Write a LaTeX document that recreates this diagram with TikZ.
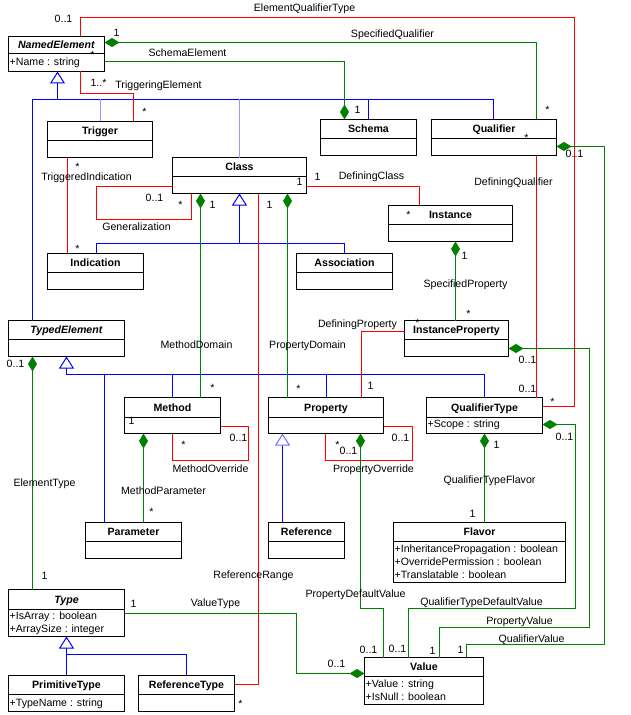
\documentclass[tikz,border=0pt]{standalone}
\usepackage{fontspec}
\setmainfont{Liberation Sans}
\usetikzlibrary{arrows.meta}
\definecolor{ured}{RGB}{255,0,0}
\definecolor{ugreen}{RGB}{0,128,0}
\definecolor{ublue}{RGB}{0,0,255}
\definecolor{ulblue}{RGB}{150,150,255}
\definecolor{umblue}{RGB}{110,110,255}
\newcounter{lc}
\newcommand{\umlbox}[7]{%
  \node[umlbox, minimum width={((#4)-(#2))*1bp}, minimum height={((#5)-(#3))*1bp}, anchor=north west] (#1) at (#2,#3) {};
  \draw[boxsep] (#2,#6) -- (#4,#6);
  \node[ctitle] (#1t) at ({((#2)+(#4))/2},{((#3)+(#6))/2+1}) {#7};}
\newcommand{\cnlab}[3]{\stepcounter{lc}\node[lbl] (lab\thelc) at (#1,#2) {#3};}
\newcommand{\cnattr}[3]{\stepcounter{lc}\node[lbl, anchor=west] (att\thelc) at (#1,#2) {#3};}
\tikzset{
  umlbox/.style={draw=black, line width=1bp, inner sep=0pt, outer sep=0pt, fill=white},
  boxsep/.style={draw=black, line width=1bp},
  lbl/.style={font=\fontsize{10.6bp}{12bp}\selectfont, inner sep=0pt, text height=7.6bp, text depth=2.2bp},
  ctitle/.style={lbl, font=\fontsize{10.6bp}{12bp}\selectfont\bfseries},
  redline/.style={draw=ured, line width=1bp},
  comp/.style={draw=ugreen, line width=1bp, {Diamond[length=15bp,width=9bp,fill=ugreen]}-},
  blueline/.style={draw=ublue, line width=1bp},
  lblueline/.style={draw=ulblue, line width=1bp},
  gen/.style={draw=ublue, line width=1bp, {Triangle[open,length=12bp,width=15bp,fill=white]}-},
  mgen/.style={draw=ublue, line width=1bp, {Triangle[open,length=12bp,width=15bp,fill=white,color=umblue]}-}
}
\begin{document}
\begin{tikzpicture}[x=1bp,y=-1bp]
\useasboundingbox (0,0) rectangle (631,715);
\begin{scope}[shift={(0.5,0.5)}]
% ---------- boxes
\umlbox{NE}{8}{36}{104}{71}{53}{\textit{NamedElement}}
\umlbox{Trig}{47}{121}{152}{157}{140}{Trigger}
\umlbox{Schema}{320}{119}{416}{155}{138}{Schema}
\umlbox{Qual}{431}{119}{556}{155}{138}{Qualifier}
\umlbox{Class}{172}{157}{306}{193}{176}{Class}
\umlbox{Inst}{388}{205}{512}{241}{224}{Instance}
\umlbox{Ind}{47}{253}{143}{289}{272}{Indication}
\umlbox{Assoc}{296}{253}{392}{289}{272}{Association}
\umlbox{TE}{8}{320}{124}{356}{339}{\textit{TypedElement}}
\umlbox{IP}{404}{320}{508}{356}{339}{InstanceProperty}
\umlbox{Meth}{124}{397}{220}{433}{417}{Method}
\umlbox{Prop}{268}{397}{383}{433}{417}{Property}
\umlbox{QT}{426}{397}{542}{433}{417}{QualifierType}
\umlbox{Param}{85}{522}{181}{558}{541}{Parameter}
\umlbox{Ref}{268}{522}{344}{558}{541}{Reference}
\umlbox{Flav}{393}{522}{565}{582}{541}{Flavor}
\umlbox{Type}{8}{589}{124}{636}{609}{\textit{Type}}
\umlbox{Val}{364}{657}{483}{704}{676}{Value}
\umlbox{PT}{8}{675}{124}{711}{694}{PrimitiveType}
\umlbox{RT}{138}{675}{234}{711}{694}{ReferenceType}
% ---------- attributes
\cnattr{9}{62}{+Name : string}
\cnattr{427}{424.5}{+Scope : string}
\cnattr{394}{549}{+InheritancePropagation : boolean}
\cnattr{394}{562}{+OverridePermission : boolean}
\cnattr{394}{575}{+Translatable : boolean}
\cnattr{9}{616.5}{+IsArray : boolean}
\cnattr{9}{629}{+ArraySize : integer}
\cnattr{365}{684}{+Value : string}
\cnattr{365}{697}{+IsNull : boolean}
\cnattr{9}{703}{+TypeName : string}
% ---------- generalizations
\draw[gen] (NE.south -| 57,0) -- (57,99);
\draw[blueline] (TE.north -| 32,0) -- (32,99) -- (493,99) -- (Qual.north -| 493,0);
\draw[blueline] (368,99) -- (Schema.north -| 368,0);
\draw[lblueline] (100,99) -- (Trig.north -| 100,0);
\draw[lblueline] (239,99) -- (Class.north -| 239,0);
\draw[gen] (Class.south -| 239,0) -- (239,243);
\draw[blueline] (Ind.north -| 96,0) -- (96,243) -- (344,243) -- (Assoc.north -| 344,0);
\draw[gen] (TE.south -| 66,0) -- (66,374);
\draw[blueline] (66,374) -- (484,374) -- (QT.north -| 484,0);
\draw[blueline] (104,374) -- (Param.north -| 104,0);
\draw[blueline] (172,374) -- (Meth.north -| 172,0);
\draw[blueline] (326,374) -- (Prop.north -| 326,0);
\draw[mgen] (Prop.south -| 282,0) -- (Ref.north -| 282,0);
\draw[gen] (Type.south -| 66,0) -- (66,654);
\draw[blueline] (PT.north -| 66,0) -- (66,654) -- (186,654) -- (RT.north -| 186,0);
% ---------- red associations
\draw[redline] (NE.north -| 80,0) -- (80,17) -- (574,17) -- (574,406) -- (QT.east |- 0,406);
\draw[redline] (NE.south -| 80,0) -- (80,93) -- (133,93) -- (Trig.north -| 133,0);
\draw[redline] (Trig.south -| 67,0) -- (Ind.north -| 67,0);
\draw[redline] (Class.west |- 0,186) -- (96,186) -- (96,219) -- (191,219) -- (Class.south -| 191,0);
\draw[redline] (Class.east |- 0,186) -- (419,186) -- (Inst.north -| 419,0);
\draw[redline] (Class.south -| 258,0) -- (258,684) -- (RT.east |- 0,684);
\draw[redline] (Qual.south -| 536,0) -- (QT.north -| 536,0);
\draw[redline] (IP.west |- 0,331) -- (361,331) -- (Prop.north -| 361,0);
\draw[redline] (Meth.east |- 0,426) -- (248,426) -- (248,460) -- (172,460) -- (Meth.south -| 172,0);
\draw[redline] (Prop.east |- 0,426) -- (412,426) -- (412,460) -- (325,460) -- (Prop.south -| 325,0);
% ---------- compositions
\draw[comp] (Schema.north -| 344,0) -- (344,61) -- (NE.east |- 0,61);
\draw[comp] (NE.east |- 0,42) -- (536,42) -- (Qual.north -| 536,0);
\draw[comp] (Qual.east |- 0,146) -- (604,146) -- (604,644) -- (466,644) -- (Val.north -| 466,0);
\draw[comp] (Inst.south -| 455,0) -- (IP.north -| 455,0);
\draw[comp] (IP.east |- 0,348) -- (589,348) -- (589,627) -- (439,627) -- (Val.north -| 439,0);
\draw[comp] (QT.east |- 0,424) -- (575,424) -- (575,608) -- (408,608) -- (Val.north -| 408,0);
\draw[comp] (Prop.south -| 360,0) -- (360,608) -- (383,608) -- (Val.north -| 383,0);
\draw[comp] (QT.south -| 484,0) -- (Flav.north -| 484,0);
\draw[comp] (Val.west |- 0,673) -- (296,673) -- (296,613) -- (Type.east |- 0,613);
\draw[comp] (TE.south -| 32,0) -- (Type.north -| 32,0);
\draw[comp] (Meth.south -| 143,0) -- (Param.north -| 143,0);
\draw[comp] (Class.south -| 200,0) -- (Meth.north -| 200,0);
\draw[comp] (Class.south -| 287,0) -- (Prop.north -| 287,0);
% ---------- labels
\cnlab{304}{8}{ElementQualifierType}
\cnlab{63}{19}{0..1}
\cnlab{116}{33}{1}
\cnlab{92}{55}{*}
\cnlab{187}{53}{SchemaElement}
\cnlab{392}{34}{SpecifiedQualifier}
\cnlab{547}{110}{*}
\cnlab{357}{110}{1}
\cnlab{526}{138}{*}
\cnlab{574}{154}{0..1}
\cnlab{98}{83}{1..*}
\cnlab{158}{85}{TriggeringElement}
\cnlab{144}{112}{*}
\cnlab{77}{167}{*}
\cnlab{86}{177}{TriggeredIndication}
\cnlab{77}{249}{*}
\cnlab{154}{198}{0..1}
\cnlab{180}{205}{*}
\cnlab{136}{227}{Generalization}
\cnlab{212}{205}{1}
\cnlab{269}{205}{1}
\cnlab{299}{182}{1}
\cnlab{317}{177}{1}
\cnlab{371}{176}{DefiningClass}
\cnlab{408}{215}{*}
\cnlab{513}{182}{DefiningQualifier}
\cnlab{464}{256}{1}
\cnlab{465}{284}{SpecifiedProperty}
\cnlab{468}{314}{*}
\cnlab{357}{324}{DefiningProperty}
\cnlab{417}{323}{*}
\cnlab{307}{345}{PropertyDomain}
\cnlab{196}{345}{MethodDomain}
\cnlab{527}{360}{0..1}
\cnlab{527}{389}{0..1}
\cnlab{552}{402}{*}
\cnlab{212}{388}{*}
\cnlab{298}{389}{*}
\cnlab{370}{386}{1}
\cnlab{15}{364}{0..1}
\cnlab{131}{421}{1}
\cnlab{238}{438}{0..1}
\cnlab{183}{445}{*}
\cnlab{210}{469}{MethodOverride}
\cnlab{44}{483}{ElementType}
\cnlab{163}{491}{MethodParameter}
\cnlab{151}{512}{*}
\cnlab{400}{438}{0..1}
\cnlab{337}{445}{*}
\cnlab{348}{451}{0..1}
\cnlab{373}{469}{PropertyOverride}
\cnlab{496}{445}{1}
\cnlab{489}{480}{QualifierTypeFlavor}
\cnlab{564}{437}{0..1}
\cnlab{472}{514}{1}
\cnlab{44}{576}{1}
\cnlab{253}{575}{ReferenceRange}
\cnlab{133}{604}{1}
\cnlab{215}{603}{ValueType}
\cnlab{240}{704}{*}
\cnlab{355}{594}{PropertyDefaultValue}
\cnlab{481}{602}{QualifierTypeDefaultValue}
\cnlab{519}{621}{PropertyValue}
\cnlab{531}{639}{QualifierValue}
\cnlab{368}{650}{0..1}
\cnlab{397}{649}{0..1}
\cnlab{432}{651}{1}
\cnlab{460}{650}{1}
\cnlab{336}{664}{0..1}
\end{scope}
\end{tikzpicture}
\end{document}
